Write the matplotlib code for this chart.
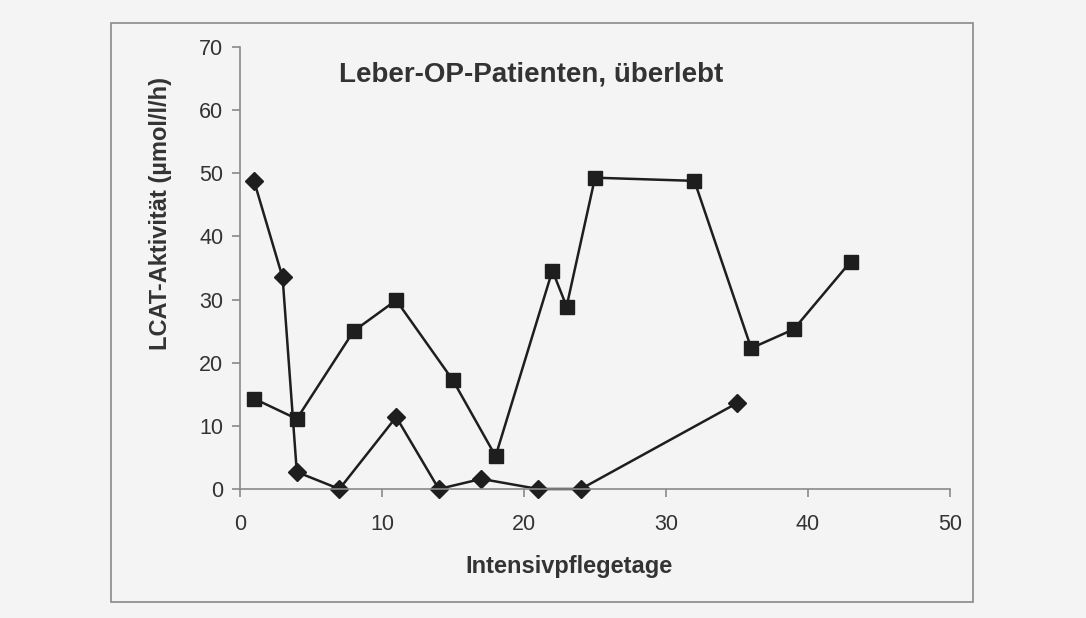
import matplotlib
matplotlib.use("Agg")
import matplotlib.pyplot as plt
from matplotlib.patches import Rectangle

# Data
days_sq = [1, 4, 8, 11, 15, 18, 22, 23, 25, 32, 36, 39, 43]
lcat_sq = [14.3, 11.1, 25.0, 29.9, 17.2, 5.2, 34.6, 28.9, 49.3, 48.8, 22.3, 25.3, 36.0]
days_di = [1, 3, 4, 7, 11, 14, 17, 21, 24, 35]
lcat_di = [48.7, 33.5, 2.7, 0.0, 11.4, 0.0, 1.6, 0.0, 0.0, 13.6]
xticks = [0, 10, 20, 30, 40, 50]
yticks = [0, 10, 20, 30, 40, 50, 60, 70]
title = "Leber-OP-Patienten, überlebt"
xlabel = "Intensivpflegetage"
ylabel = "LCAT-Aktivität (µmol/l/h)"

plt.rcParams['font.family'] = ['Liberation Sans', 'DejaVu Sans']

W, H = 1086, 618
bg = '#f4f4f4'
fig = plt.figure(figsize=(W/100, H/100), dpi=100, facecolor=bg)
fig.patches.append(Rectangle((111/W, 1-602/H), (973-111)/W, (602-23)/H,
                             transform=fig.transFigure, fill=False,
                             edgecolor='#8a8a8a', linewidth=1.2))

ax = fig.add_axes([240/W, 1-489/H, (950-240)/W, (489-47)/H])
ax.set_facecolor(bg)
ink = '#1e1e1e'
ax.plot(days_sq, lcat_sq, color=ink, linewidth=1.8, marker='s', markersize=10, clip_on=False)
ax.plot(days_di, lcat_di, color=ink, linewidth=1.8, marker='D', markersize=9, clip_on=False)

ax.set_xlim(0, 50)
ax.set_ylim(0, 70)
ax.set_xticks(xticks)
ax.set_yticks(yticks)
for s in ['top', 'right']:
    ax.spines[s].set_visible(False)
for s in ['left', 'bottom']:
    ax.spines[s].set_color('#8a8a8a')
    ax.spines[s].set_linewidth(1.2)
ax.tick_params(axis='both', direction='out', length=6, width=1.2, color='#8a8a8a',
               labelsize=15.5, labelcolor='#333333')
ax.tick_params(axis='x', pad=12)
ax.tick_params(axis='y', pad=6)

txtc = '#333333'
fig.text(531.5/W, 1-75/H, title, ha='center', va='center',
         fontsize=20, fontweight='bold', color=txtc)
fig.text(569/W, 1-567/H, xlabel, ha='center', va='center',
         fontsize=17, fontweight='bold', color=txtc)
fig.text(161/W, 1-214/H, ylabel, ha='center', va='center', rotation=90,
         fontsize=17, fontweight='bold', color=txtc)

fig.savefig('out.png', dpi=100, facecolor=bg)
